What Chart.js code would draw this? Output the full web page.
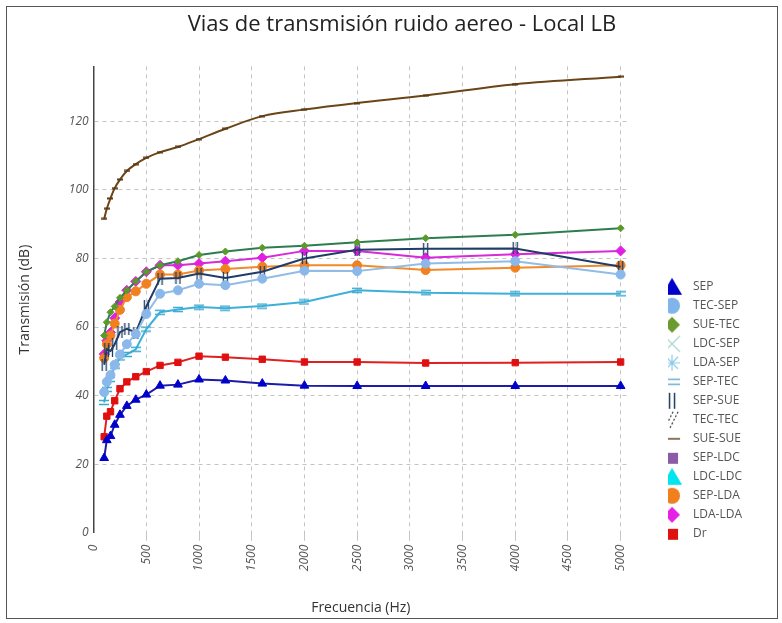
<!DOCTYPE html>
<html>
<head>
<meta charset="utf-8">
<script src="https://cdn.jsdelivr.net/npm/chart.js@4.4.0/dist/chart.umd.min.js"></script>
<style>
  body { margin: 0; background: #fff; }
  #frame { position: absolute; left: 6px; top: 6px; width: 770px; height: 611px; border: 1px solid #555; }
  canvas { display: block; }
</style>
</head>
<body>
<div id="frame"><canvas id="graph" width="770" height="611"></canvas></div>
<script>
// third-octave bands (Hz)
const freqs = [100, 125, 160, 200, 250, 315, 400, 500, 630, 800, 1000, 1250, 1600, 2000, 2500, 3150, 4000, 5000];

// transmission per path (dB)
const sep    = [21.8, 27, 28.2, 31.5, 34.4, 37, 38.8, 40.3, 42.9, 43.2, 44.7, 44.4, 43.5, 42.9, 42.8, 42.8, 42.8, 42.8];
const tecSep = [41, 44, 46, 49, 52, 55, 58, 63.8, 69.7, 70.7, 72.6, 72.2, 74.1, 76.4, 76.3, 78.5, 79.2, 75.3];
const sueTec = [57.5, 61.4, 64.3, 66, 68.5, 70.7, 73.3, 76.1, 78, 79.2, 81, 82, 83.1, 83.7, 84.7, 85.9, 86.9, 88.8];
const sepTec = [38, 41.8, 44.7, 48.6, 51, 52, 53.5, 59.4, 64.3, 65.1, 65.8, 65.5, 66.1, 67.3, 70.7, 70, 69.7, 69.7];
const sepSue = [49, 53.5, 53, 55, 58.5, 59.5, 58.4, 66, 74.1, 74.3, 75.6, 74.3, 76.1, 80, 82.5, 82.8, 82.9, 77.6];
const sueSue = [91.5, 94.5, 97.5, 100.5, 103, 105.5, 107.5, 109.3, 111, 112.5, 114.8, 117.8, 121.5, 123.4, 125.3, 127.5, 130.8, 133];
const sepLda = [51, 55, 57.5, 61, 65, 68.7, 70.4, 72.6, 75.3, 75.3, 76.5, 76.9, 77.6, 78, 78, 76.6, 77.3, 78];
const ldaLda = [52.1, 56, 58.4, 62.6, 67.3, 70.7, 73.3, 76.1, 78, 78, 78.5, 79.2, 80.2, 82.2, 82.2, 80.2, 81.2, 82.2];
const dr     = [28, 34, 35.3, 38.5, 42, 44, 45.5, 47, 48.8, 49.7, 51.5, 51.2, 50.6, 49.8, 49.8, 49.5, 49.6, 49.8];

const seriesNames = ['SEP', 'TEC-SEP', 'SUE-TEC', 'LDC-SEP', 'LDA-SEP', 'SEP-TEC', 'SEP-SUE', 'TEC-TEC',
                     'SUE-SUE', 'SEP-LDC', 'LDC-LDC', 'SEP-LDA', 'LDA-LDA', 'Dr'];
const seriesValues = [sep, tecSep, sueTec, [], [], sepTec, sepSue, [], sueSue, [], [], sepLda, ldaLda, dr];

const xTicks = [0, 500, 1000, 1500, 2000, 2500, 3000, 3500, 4000, 4500, 5000];
const yTicks = [0, 20, 40, 60, 80, 100, 120];

function makeCanvas(w, h, draw) {
    const c = document.createElement('canvas');
    c.width = w;
    c.height = h;
    draw(c.getContext('2d'), w, h);
    return c;
}

// legend icons: marker sits left of the icon centre so the text gets some room
function legendIcon(shape, color) {
    return makeCanvas(40, 22, function (ctx) {
        const x = 11, y = 11;
        ctx.fillStyle = color;
        ctx.strokeStyle = color;
        ctx.beginPath();
        if (shape == 'triangle') {
            ctx.moveTo(x, y - 9); ctx.lineTo(x + 10, y + 8); ctx.lineTo(x - 10, y + 8);
            ctx.closePath(); ctx.fill();
        } else if (shape == 'circle') {
            ctx.arc(x, y, 8, 0, Math.PI * 2); ctx.fill();
        } else if (shape == 'diamond') {
            ctx.moveTo(x, y - 8); ctx.lineTo(x + 8, y); ctx.lineTo(x, y + 8); ctx.lineTo(x - 8, y);
            ctx.closePath(); ctx.fill();
        } else if (shape == 'cross') {
            ctx.lineWidth = 1.2;
            ctx.moveTo(x - 8, y - 8); ctx.lineTo(x + 8, y + 8);
            ctx.moveTo(x + 8, y - 8); ctx.lineTo(x - 8, y + 8);
            ctx.stroke();
        } else if (shape == 'star') {
            ctx.lineWidth = 1.2;
            ctx.moveTo(x - 8, y); ctx.lineTo(x + 8, y);
            ctx.moveTo(x, y - 8); ctx.lineTo(x, y + 8);
            ctx.moveTo(x - 6, y - 6); ctx.lineTo(x + 6, y + 6);
            ctx.moveTo(x + 6, y - 6); ctx.lineTo(x - 6, y + 6);
            ctx.stroke();
        } else if (shape == 'equal') {
            ctx.lineWidth = 1.5;
            ctx.moveTo(x - 8, y - 2.5); ctx.lineTo(x + 8, y - 2.5);
            ctx.moveTo(x - 8, y + 2.5); ctx.lineTo(x + 8, y + 2.5);
            ctx.stroke();
        } else if (shape == 'bars') {
            ctx.lineWidth = 1.5;
            ctx.moveTo(x - 2.5, y - 8); ctx.lineTo(x - 2.5, y + 8);
            ctx.moveTo(x + 2.5, y - 8); ctx.lineTo(x + 2.5, y + 8);
            ctx.stroke();
        } else if (shape == 'slashes') {
            ctx.lineWidth = 1.2;
            ctx.setLineDash([2, 2]);
            ctx.moveTo(x - 7, y + 8); ctx.lineTo(x + 1, y - 8);
            ctx.moveTo(x - 2, y + 8); ctx.lineTo(x + 6, y - 8);
            ctx.stroke();
        } else if (shape == 'dash') {
            ctx.lineWidth = 1.5;
            ctx.moveTo(x - 8, y); ctx.lineTo(x + 8, y);
            ctx.stroke();
        } else if (shape == 'square') {
            ctx.fillRect(x - 5, y - 5, 11, 11);
        }
    });
}

// small line markers used on the plot
const equalMark = makeCanvas(10, 7, function (ctx) {
    ctx.strokeStyle = '#3aa8d0'; ctx.lineWidth = 1.3;
    ctx.beginPath(); ctx.moveTo(0, 1.5); ctx.lineTo(10, 1.5); ctx.moveTo(0, 5.5); ctx.lineTo(10, 5.5); ctx.stroke();
});
const barsMark = makeCanvas(7, 12, function (ctx) {
    ctx.strokeStyle = '#1f3d66'; ctx.lineWidth = 1.3;
    ctx.beginPath(); ctx.moveTo(1.5, 0); ctx.lineTo(1.5, 12); ctx.moveTo(5.5, 0); ctx.lineTo(5.5, 12); ctx.stroke();
});
const dashMark = makeCanvas(6, 3, function (ctx) {
    ctx.fillStyle = '#5c3a12'; ctx.fillRect(0, 0.5, 6, 2);
});

const styles = [
    {line: '#1c1ca8', fill: '#0000cc', point: 'triangle', r: 5,   icon: legendIcon('triangle', '#0000c8')},
    {line: '#92bce6', fill: '#8ab8ea', point: 'circle',   r: 4.5, icon: legendIcon('circle', '#80b4ea')},
    {line: '#2e7d50', fill: '#5a9a2a', point: 'rectRot',  r: 3.5, icon: legendIcon('diamond', '#6b9a2e')},
    {line: '#a8d8d0', fill: '#a8d8d0', point: 'crossRot', r: 4,   icon: legendIcon('cross', '#a8d8d0')},
    {line: '#8ccbe8', fill: '#8ccbe8', point: 'star',     r: 4,   icon: legendIcon('star', '#8ccbe8')},
    {line: '#3cb0da', fill: '#3cb0da', point: equalMark,  r: 4,   icon: legendIcon('equal', '#6ab0d0')},
    {line: '#1f3d66', fill: '#1f3d66', point: barsMark,   r: 4,   icon: legendIcon('bars', '#1e3a5f')},
    {line: '#203040', fill: '#203040', point: 'line',     r: 4,   icon: legendIcon('slashes', '#203040')},
    {line: '#6b4518', fill: '#6b4518', point: dashMark,   r: 3,   icon: legendIcon('dash', '#6b4520')},
    {line: '#8c5aa8', fill: '#8c5aa8', point: 'rect',     r: 4,   icon: legendIcon('square', '#8c5aa8')},
    {line: '#00e0ea', fill: '#00e0ea', point: 'triangle', r: 5,   icon: legendIcon('triangle', '#00e5ee')},
    {line: '#f08a2a', fill: '#f08020', point: 'circle',   r: 4.5, icon: legendIcon('circle', '#f07f1e')},
    {line: '#d82ad8', fill: '#e020e0', point: 'rectRot',  r: 5,   icon: legendIcon('diamond', '#e61ee6')},
    {line: '#e02020', fill: '#e01010', point: 'rect',     r: 4.5, icon: legendIcon('square', '#e01010')}
];

const datasets = seriesNames.map(function (name, k) {
    const st = styles[k];
    return {
        label: name,
        data: seriesValues[k].map(function (v, i) { return {x: freqs[i], y: v}; }),
        borderColor: st.line,
        backgroundColor: st.fill,
        borderWidth: 2,
        pointStyle: st.point,
        pointRadius: st.r,
        pointBorderWidth: 1,
        pointBorderColor: st.fill,
        tension: name == 'SUE-SUE' ? 0.35 : 0
    };
});

Chart.defaults.font.family = "'Open Sans', sans-serif";

const hideZero = function (ctx) {
    return ctx.tick && ctx.tick.value == 0 ? 'rgba(0,0,0,0)' : '#c4c4c4';
};

// legend hangs a little lower than the plot bottom in the original
const legendShift = {
    id: 'legendShift',
    afterLayout: function (chart) {
        chart.legend.top += 14;
        chart.legend.bottom += 14;
    }
};

new Chart(document.getElementById('graph'), {
    type: 'line',
    data: {datasets: datasets},
    plugins: [legendShift],
    options: {
        responsive: false,
        animation: false,
        layout: {padding: {left: 45, right: 25, top: 0, bottom: 0}},
        plugins: {
            title: {
                display: true,
                text: 'Vias de transmisión ruido aereo - Local LB',
                color: '#222',
                font: {size: 22, weight: 'normal'},
                padding: {top: 5, bottom: 28}
            },
            legend: {
                position: 'right',
                align: 'end',
                fullSize: false,
                labels: {
                    usePointStyle: true,
                    padding: 7,
                    color: '#555',
                    font: {size: 12},
                    generateLabels: function (chart) {
                        const items = Chart.defaults.plugins.legend.labels.generateLabels(chart);
                        items.forEach(function (it) { it.pointStyle = styles[it.datasetIndex].icon; });
                        return items;
                    }
                }
            },
            tooltip: {enabled: false}
        },
        scales: {
            x: {
                type: 'linear',
                min: 0,
                max: 5070,
                afterBuildTicks: function (scale) {
                    scale.ticks = xTicks.map(function (v) { return {value: v}; });
                },
                ticks: {
                    maxRotation: 90,
                    minRotation: 90,
                    padding: 4,
                    color: '#555',
                    font: {size: 12, style: 'italic'},
                    callback: function (v) { return String(v); }
                },
                grid: {color: hideZero, tickLength: 8},
                border: {display: false, dash: [4, 4]},
                title: {
                    display: true,
                    text: 'Frecuencia (Hz)',
                    color: '#333',
                    font: {size: 14},
                    padding: {top: 24, bottom: 2}
                }
            },
            y: {
                min: 0,
                max: 136,
                afterBuildTicks: function (scale) {
                    scale.ticks = yTicks.map(function (v) { return {value: v}; });
                },
                ticks: {padding: 5, color: '#555', font: {size: 12, style: 'italic'}},
                grid: {color: hideZero, drawTicks: false},
                border: {display: true, color: '#444', width: 1.5, dash: [4, 4]},
                title: {
                    display: true,
                    text: 'Transmisión (dB)',
                    color: '#333',
                    font: {size: 14},
                    padding: {top: -35, bottom: 30}
                }
            },
            spacer: {
                position: 'right',
                display: true,
                grid: {display: false},
                ticks: {display: false},
                border: {display: false},
                afterFit: function (scale) { scale.width = 40; }
            }
        }
    }
});
</script>
</body>
</html>
